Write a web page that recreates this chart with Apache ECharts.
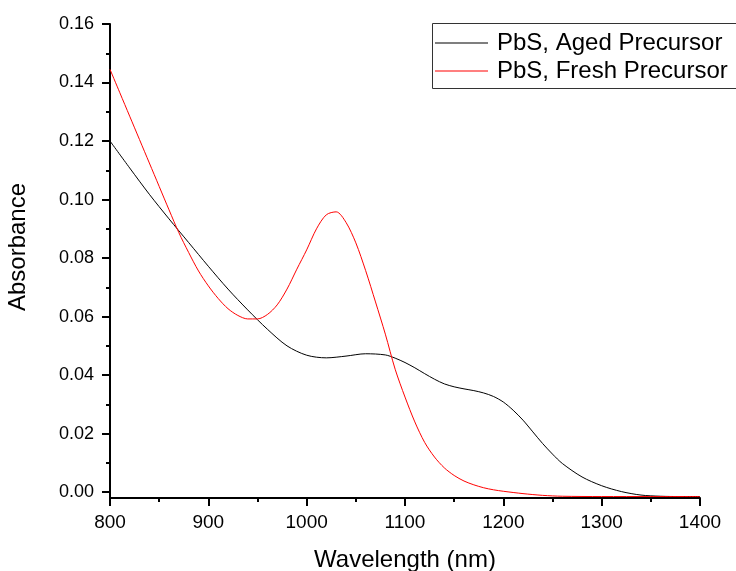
<!DOCTYPE html>
<html>
<head>
<meta charset="utf-8">
<script src="https://cdn.jsdelivr.net/npm/echarts@6/dist/echarts.min.js"></script>
<style>html,body{margin:0;padding:0;background:#fff;}#c{width:736px;height:571px;}</style>
</head>
<body>
<div id="c"></div>
<script>
const seriesNames = ['PbS, Aged Precursor', 'PbS, Fresh Precursor'];
const xTicks = [800, 900, 1000, 1100, 1200, 1300, 1400];
const yTicks = [0, 0.02, 0.04, 0.06, 0.08, 0.10, 0.12, 0.14, 0.16];
const yMinorTicks = [0.01, 0.03, 0.05, 0.07, 0.09, 0.11, 0.13, 0.15];

const agedWavelengths = [800, 820, 840, 860, 880, 900, 920, 940, 960, 980, 1000, 1020, 1040, 1060, 1080, 1090, 1100, 1110, 1120, 1130, 1140, 1150, 1160, 1170, 1180, 1190, 1200, 1210, 1220, 1230, 1240, 1250, 1260, 1280, 1300, 1320, 1340, 1360, 1380, 1400];
const agedAbs = [0.120, 0.1108, 0.1018, 0.0934, 0.0853, 0.0772, 0.0694, 0.0623, 0.0557, 0.0500, 0.0468, 0.0459, 0.0465, 0.0473, 0.0469, 0.0458, 0.0443, 0.0425, 0.0405, 0.0386, 0.0370, 0.0360, 0.0353, 0.0347, 0.0339, 0.0327, 0.0308, 0.0280, 0.0246, 0.0206, 0.0166, 0.0130, 0.0098, 0.0052, 0.0022, 0.0002, -0.0010, -0.0014, -0.0015, -0.0015];

const freshWavelengths = [800, 810, 820, 830, 840, 850, 860, 870, 880, 890, 900, 910, 920, 930, 940, 950, 960, 970, 980, 990, 1000, 1010, 1020, 1030, 1040, 1050, 1060, 1070, 1080, 1090, 1100, 1110, 1120, 1130, 1140, 1150, 1160, 1170, 1180, 1190, 1200, 1220, 1240, 1260, 1300, 1350, 1400];
const freshAbs = [0.1445, 0.1365, 0.1285, 0.1205, 0.1125, 0.1045, 0.0965, 0.0887, 0.0819, 0.0756, 0.0705, 0.0662, 0.0627, 0.0604, 0.0592, 0.0592, 0.0607, 0.0640, 0.0694, 0.0762, 0.0828, 0.0900, 0.0948, 0.0958, 0.0922, 0.0852, 0.0757, 0.0650, 0.0540, 0.0420, 0.0325, 0.0240, 0.0170, 0.0120, 0.0083, 0.0057, 0.0038, 0.0025, 0.0015, 0.0008, 0.0003, -0.0005, -0.0011, -0.0014, -0.0015, -0.0015, -0.0015];

const pair = (xs, ys) => xs.map((x, i) => [x, ys[i]]);
const FONT = '"Liberation Sans", Arial, sans-serif';

const chart = echarts.init(document.getElementById('c'));
chart.setOption({
  animation: false,
  backgroundColor: '#fff',
  grid: { left: 110, right: 36, top: 24, bottom: 73, containLabel: false, outerBoundsMode: 'none' },
  legend: {
    orient: 'vertical',
    left: 435, top: 31, padding: 0,
    itemWidth: 53, itemHeight: 1, itemGap: 4,
    icon: 'rect',
    data: seriesNames,
    textStyle: { fontFamily: FONT, fontSize: 24, color: '#000', padding: [0, 0, 0, 4], lineHeight: 24 }
  },
  xAxis: {
    type: 'value', min: xTicks[0], max: xTicks[xTicks.length - 1], interval: 100,
    name: 'Wavelength (nm)', nameLocation: 'middle', nameGap: 50,
    nameTextStyle: { fontFamily: FONT, fontSize: 24, color: '#000' },
    axisLine: { onZero: false, lineStyle: { color: '#000', width: 2 } },
    axisTick: { length: 8, lineStyle: { color: '#000', width: 2 } },
    minorTick: { show: true, splitNumber: 2, length: 4, lineStyle: { color: '#000', width: 2 } },
    axisLabel: { fontFamily: FONT, fontSize: 19, color: '#000', margin: 15, formatter: v => String(v) },
    splitLine: { show: false }
  },
  yAxis: [{
    type: 'value', min: -0.002, max: 0.16,
    name: 'Absorbance', nameLocation: 'middle', nameGap: 80, nameRotate: 90,
    nameTextStyle: { fontFamily: FONT, fontSize: 24, color: '#000', padding: [0, 0, 0, 28] },
    axisLine: { onZero: false, lineStyle: { color: '#000', width: 2 } },
    axisTick: { length: 8, customValues: yTicks, lineStyle: { color: '#000', width: 2 } },
    axisLabel: { fontFamily: FONT, fontSize: 18, color: '#000', margin: 16, customValues: yTicks,
      formatter: v => v.toFixed(2) },
    splitLine: { show: false }
  }, {
    type: 'value', min: -0.002, max: 0.16, position: 'left',
    axisLine: { show: false },
    axisTick: { length: 4, customValues: yMinorTicks, lineStyle: { color: '#000', width: 2 } },
    axisLabel: { show: false, customValues: yMinorTicks },
    splitLine: { show: false }
  }],
  series: [{
    name: seriesNames[0], type: 'line', data: pair(agedWavelengths, agedAbs),
    smooth: 0.3, showSymbol: false, color: '#000', lineStyle: { width: 1, color: '#000' }
  }, {
    name: seriesNames[1], type: 'line', data: pair(freshWavelengths, freshAbs),
    smooth: 0.3, showSymbol: false, color: '#ff0000', lineStyle: { width: 1, color: '#ff0000' }
  }],
  graphic: [{
    type: 'rect', shape: { x: 432.5, y: 23.5, width: 320, height: 65 },
    style: { fill: null, stroke: '#333', lineWidth: 1 }, z: 100
  }]
});
</script>
</body>
</html>
